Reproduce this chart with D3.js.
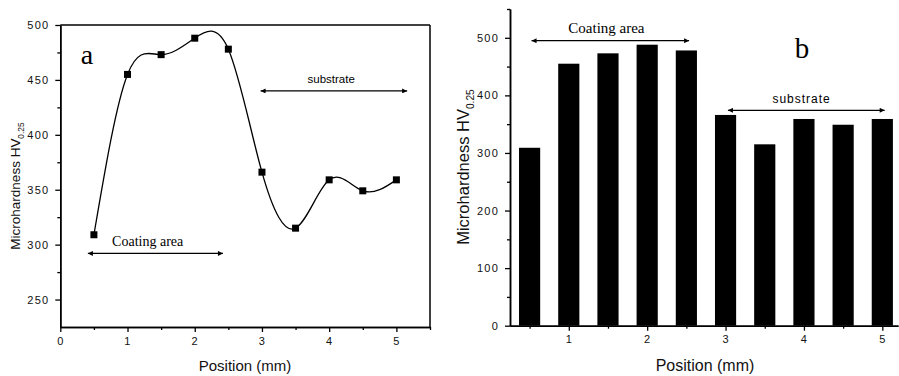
<!DOCTYPE html>
<html>
<head>
<meta charset="utf-8">
<script src="https://cdn.jsdelivr.net/npm/d3@7"></script>
<style>
  body { margin: 0; background: #fff; }
  .tick text { font-family: "Liberation Sans", Arial, sans-serif; font-size: 11px; letter-spacing: 1.2px; fill: #111; }
  .axisLbl { font-family: "Liberation Sans", Arial, sans-serif; fill: #111; }
</style>
</head>
<body>
<div id="chart"></div>
<script>
// measurement positions (mm) and hardness HV0.25
let positions = [0.5, 1, 1.5, 2, 2.5, 3, 3.5, 4, 4.5, 5];
let hardness = [309, 455, 473, 488, 478, 366, 315, 359, 349, 359];

let xTicksA = [0, 1, 2, 3, 4, 5];
let yTicksA = [250, 300, 350, 400, 450, 500];
let xTicksB = [1, 2, 3, 4, 5];
let yTicksB = [0, 100, 200, 300, 400, 500];

// annotation arrows: [label, x from, x to, y, text x]
let arrowsA = [["Coating area", 0.41, 2.42, 292, 1.30], ["substrate", 2.98, 5.16, 440, 4.03]];
let arrowsB = [["Coating area", 0.525, 2.535, 495, 1.48], ["substrate", 3.03, 5.03, 374, 3.97]];

let svg = d3.select("#chart").append("svg")
  .attr("width", 899).attr("height", 376);

let defs = svg.append("defs");
["start", "end"].forEach(k => {
  defs.append("marker")
    .attr("id", "arr-" + k)
    .attr("viewBox", "0 0 10 10")
    .attr("refX", k == "end" ? 10 : 0).attr("refY", 5)
    .attr("markerWidth", 6).attr("markerHeight", 5)
    .attr("markerUnits", "userSpaceOnUse")
    .attr("orient", "auto")
    .append("path")
    .attr("d", k == "end" ? "M0,0L10,5L0,10Z" : "M10,0L0,5L10,10Z")
    .attr("fill", "#000");
});

function drawAxes(g, xScale, yScale, xTicks, yTicks, xMinor, yMinor) {
  let bottom = yScale.range()[0];
  let left = xScale.range()[0];

  g.append("g")
    .attr("transform", "translate(0," + bottom + ")")
    .call(d3.axisBottom(xScale).tickValues(xMinor).tickSize(3).tickFormat("").tickSizeOuter(0));
  g.append("g")
    .attr("transform", "translate(0," + bottom + ")")
    .call(d3.axisBottom(xScale).tickValues(xTicks).tickSize(5).tickPadding(5).tickFormat(d3.format("d")).tickSizeOuter(0));

  g.append("g")
    .attr("transform", "translate(" + left + ",0)")
    .call(d3.axisLeft(yScale).tickValues(yMinor).tickSize(3).tickFormat("").tickSizeOuter(0));
  g.append("g")
    .attr("transform", "translate(" + left + ",0)")
    .call(d3.axisLeft(yScale).tickValues(yTicks).tickSize(5).tickPadding(6).tickFormat(d3.format("d")).tickSizeOuter(0));

  g.selectAll(".domain").attr("stroke", "#000").attr("stroke-width", 1.5);
  g.selectAll(".tick line").attr("stroke", "#000").attr("stroke-width", 1.3);
}

function drawArrows(g, xScale, yScale, arrows, fontFamily, fontSizes) {
  arrows.forEach((a, i) => {
    g.append("line")
      .attr("x1", xScale(a[1])).attr("x2", xScale(a[2]))
      .attr("y1", yScale(a[3])).attr("y2", yScale(a[3]))
      .attr("stroke", "#000").attr("stroke-width", 1.4)
      .attr("marker-start", "url(#arr-start)")
      .attr("marker-end", "url(#arr-end)");
    g.append("text")
      .attr("x", xScale(a[4]))
      .attr("y", yScale(a[3]) - 7.5)
      .attr("text-anchor", "middle")
      .style("font-family", fontFamily[i])
      .style("font-size", fontSizes[i] + "px")
      .text(a[0]);
  });
}

function yLabel(g, x, y, size) {
  let t = g.append("text")
    .attr("class", "axisLbl")
    .attr("transform", "translate(" + x + "," + y + ") rotate(-90)")
    .attr("text-anchor", "middle")
    .style("font-size", size + "px");
  t.append("tspan").text("Microhardness HV");
  t.append("tspan").attr("dy", size * 0.28).style("font-size", (size * 0.62) + "px").text("0.25");
}

// ---------- panel a : spline ----------
let xA = d3.scaleLinear().domain([0, 5.5]).range([60.3, 430]);
let yA = d3.scaleLinear().domain([225, 500]).range([327, 25]);
let gA = svg.append("g");

drawAxes(gA, xA, yA, xTicksA, yTicksA,
  d3.range(0.5, 5.6, 1), d3.range(275, 500, 50));

// frame top and right
gA.append("line").attr("x1", xA(0)).attr("x2", xA(5.5)).attr("y1", yA(500)).attr("y2", yA(500))
  .attr("stroke", "#000").attr("stroke-width", 1.5);
gA.append("line").attr("x1", xA(5.5)).attr("x2", xA(5.5)).attr("y1", yA(500)).attr("y2", yA(225))
  .attr("stroke", "#000").attr("stroke-width", 1.5);

let pts = positions.map((p, i) => [p, hardness[i]]);
gA.append("path")
  .datum(pts)
  .attr("fill", "none")
  .attr("stroke", "#000")
  .attr("stroke-width", 1.3)
  .attr("d", d3.line().x(d => xA(d[0])).y(d => yA(d[1])).curve(d3.curveNatural));

gA.selectAll(".pt")
  .data(pts)
  .enter()
  .append("rect")
  .attr("class", "pt")
  .attr("x", d => xA(d[0]) - 3.5)
  .attr("y", d => yA(d[1]) - 3.5)
  .attr("width", 7).attr("height", 7)
  .attr("fill", "#000");

drawArrows(gA, xA, yA, arrowsA, ["'Liberation Serif', 'Times New Roman', serif", "'Liberation Sans', Arial, sans-serif"], [14, 11.5]);

gA.append("text")
  .attr("x", 87).attr("y", 64)
  .attr("text-anchor", "middle")
  .style("font-family", "'Liberation Serif', 'Times New Roman', serif")
  .style("font-size", "28px")
  .text("a");

yLabel(gA, 20, 186, 13.5);
gA.append("text").attr("class", "axisLbl")
  .attr("x", 245).attr("y", 371)
  .attr("text-anchor", "middle").style("font-size", "15px")
  .text("Position (mm)");

// ---------- panel b : bars ----------
let xB = d3.scaleLinear().domain([0.25, 5.2]).range([510, 898]);
let yB = d3.scaleLinear().domain([0, 550]).range([325.7, 9]);
let gB = svg.append("g");
let barW = 0.27;

gB.selectAll(".bar")
  .data(pts)
  .enter()
  .append("rect")
  .attr("class", "bar")
  .attr("x", d => xB(d[0] - barW / 2))
  .attr("y", d => yB(d[1]))
  .attr("width", xB(barW) - xB(0))
  .attr("height", d => yB(0) - yB(d[1]))
  .attr("fill", "#000");

drawAxes(gB, xB, yB, xTicksB, yTicksB,
  d3.range(0.5, 5, 1), d3.range(50, 551, 100));

drawArrows(gB, xB, yB, arrowsB, ["'Liberation Serif', 'Times New Roman', serif", "'Liberation Sans', Arial, sans-serif"], [15, 12]);
gB.selectAll("text").filter(function() { return d3.select(this).text() == "substrate"; })
  .style("letter-spacing", "1px");

gB.append("text")
  .attr("x", 802).attr("y", 58)
  .attr("text-anchor", "middle")
  .style("font-family", "'Liberation Serif', 'Times New Roman', serif")
  .style("font-size", "29px")
  .text("b");

yLabel(gB, 469, 167, 16.5);
gB.append("text").attr("class", "axisLbl")
  .attr("x", 705).attr("y", 371)
  .attr("text-anchor", "middle").style("font-size", "16px")
  .text("Position (mm)");
</script>
</body>
</html>
